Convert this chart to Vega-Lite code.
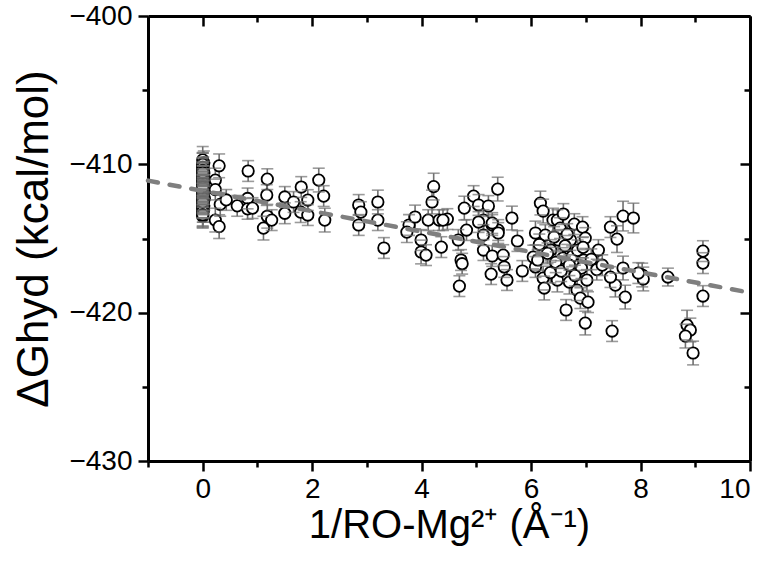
{
  "$schema": "https://vega.github.io/schema/vega-lite/v6.json",
  "width": 602,
  "height": 445,
  "autosize": {"type": "none"},
  "padding": {"left": 148, "top": 16, "right": 24, "bottom": 111},
  "background": "white",
  "config": {
    "view": {"stroke": null},
    "font": "Liberation Sans",
    "axis": {
      "domainColor": "black", "domainWidth": 3, "tickColor": "black", "tickWidth": 2.5,
      "grid": false, "labelFont": "Liberation Sans", "labelFontSize": 28, "labelColor": "black",
      "titleFont": "Liberation Sans", "titleFontWeight": "normal", "titleColor": "black"
    }
  },
  "datasets": {
    "pts": [
      {"x":0,"y":-409.7,"e":0.9},{"x":0.02,"y":-409.9,"e":0.8},{"x":0,"y":-410.1,"e":0.9},{"x":0.01,"y":-410.3,"e":0.8},
      {"x":0,"y":-410.5,"e":0.9},{"x":0.02,"y":-410.6,"e":0.8},{"x":0,"y":-410.8,"e":0.9},{"x":0.01,"y":-410.9,"e":0.8},
      {"x":0,"y":-411.0,"e":0.9},{"x":0.03,"y":-411.1,"e":0.8},{"x":0,"y":-411.2,"e":0.9},{"x":0.01,"y":-411.3,"e":0.8},
      {"x":0,"y":-411.4,"e":0.9},{"x":0.02,"y":-411.5,"e":0.8},{"x":0,"y":-411.6,"e":0.9},{"x":0.01,"y":-411.7,"e":0.8},
      {"x":0,"y":-411.8,"e":0.9},{"x":0.02,"y":-411.9,"e":0.8},{"x":0,"y":-412.0,"e":0.9},{"x":0.01,"y":-412.1,"e":0.8},
      {"x":0,"y":-412.2,"e":0.9},{"x":0.03,"y":-412.3,"e":0.8},{"x":0,"y":-412.4,"e":0.9},{"x":0.01,"y":-412.6,"e":0.8},
      {"x":0,"y":-412.7,"e":0.9},{"x":0.02,"y":-412.8,"e":0.8},{"x":0,"y":-413.0,"e":0.9},{"x":0.01,"y":-413.1,"e":0.8},
      {"x":0,"y":-413.3,"e":0.9},{"x":0,"y":-413.5,"e":0.8},
      {"x":0,"y":-410.0,"e":0.75},{"x":0,"y":-410.2,"e":0.95},{"x":0,"y":-410.4,"e":0.85},{"x":0,"y":-410.7,"e":0.75},
      {"x":0,"y":-411.05,"e":0.95},{"x":0,"y":-411.25,"e":0.85},{"x":0,"y":-411.45,"e":0.75},{"x":0,"y":-411.65,"e":0.95},
      {"x":0,"y":-411.85,"e":0.85},{"x":0,"y":-412.05,"e":0.75},{"x":0,"y":-412.25,"e":0.95},{"x":0,"y":-412.5,"e":0.85},
      {"x":0,"y":-412.9,"e":0.75},{"x":0,"y":-413.2,"e":0.95},{"x":0,"y":-413.4,"e":0.85},{"x":0,"y":-412.55,"e":0.7},
      {"x":0,"y":-411.55,"e":0.7},{"x":0,"y":-410.55,"e":0.7},
      {"x":0.30,"y":-410.1,"e":0.8},{"x":0.23,"y":-411.06,"e":0.8},{"x":0.23,"y":-411.7,"e":0.7},{"x":0.32,"y":-412.7,"e":0.8},
      {"x":0.23,"y":-413.76,"e":0.8},{"x":0.30,"y":-414.2,"e":0.8},{"x":0.43,"y":-412.4,"e":0.7},{"x":0.63,"y":-412.8,"e":0.7},
      {"x":0.82,"y":-412.3,"e":0.7},{"x":0.82,"y":-413.0,"e":0.7},{"x":0.83,"y":-410.45,"e":0.7},{"x":0.91,"y":-412.95,"e":0.7},
      {"x":1.18,"y":-411.0,"e":0.7},{"x":1.17,"y":-412.07,"e":0.7},{"x":1.18,"y":-413.5,"e":0.8},{"x":1.26,"y":-413.76,"e":0.7},
      {"x":1.11,"y":-414.3,"e":0.8},{"x":1.50,"y":-412.2,"e":0.7},{"x":1.50,"y":-413.3,"e":0.7},{"x":1.8,"y":-411.53,"e":0.7},
      {"x":1.66,"y":-412.54,"e":0.7},{"x":1.79,"y":-413.22,"e":0.7},{"x":1.92,"y":-412.41,"e":0.7},{"x":1.92,"y":-413.42,"e":0.7},
      {"x":2.12,"y":-411.06,"e":0.8},{"x":2.21,"y":-412.14,"e":0.7},{"x":2.23,"y":-413.76,"e":0.8},{"x":2.85,"y":-412.74,"e":0.7},
      {"x":2.89,"y":-413.22,"e":0.7},{"x":2.85,"y":-414.09,"e":0.7},{"x":3.20,"y":-412.54,"e":0.8},{"x":3.20,"y":-413.76,"e":0.7},
      {"x":3.31,"y":-415.64,"e":0.7},{"x":3.77,"y":-414.09,"e":0.7},{"x":3.73,"y":-414.57,"e":0.7},{"x":3.88,"y":-413.55,"e":0.8},
      {"x":3.99,"y":-415.1,"e":0.7},{"x":3.99,"y":-415.91,"e":0.8},{"x":4.08,"y":-416.12,"e":0.7},{"x":4.22,"y":-411.5,"e":0.9},
      {"x":4.19,"y":-412.54,"e":0.8},{"x":4.12,"y":-413.76,"e":0.7},{"x":4.32,"y":-413.76,"e":0.7},{"x":4.36,"y":-415.58,"e":0.7},
      {"x":4.47,"y":-413.69,"e":0.7},{"x":4.72,"y":-416.45,"e":0.7},{"x":4.74,"y":-416.7,"e":0.7},{"x":4.69,"y":-418.21,"e":0.7},
      {"x":4.78,"y":-412.95,"e":0.8},{"x":4.95,"y":-412.14,"e":0.7},{"x":5.04,"y":-412.74,"e":0.7},{"x":5.22,"y":-412.81,"e":0.7},
      {"x":5.39,"y":-411.67,"e":0.8},{"x":5.13,"y":-413.76,"e":0.7},{"x":5.29,"y":-414.09,"e":0.7},{"x":5.40,"y":-414.43,"e":0.7},
      {"x":4.67,"y":-415.1,"e":0.7},{"x":5.13,"y":-415.78,"e":0.7},{"x":5.29,"y":-416.18,"e":0.7},{"x":5.49,"y":-416.12,"e":0.7},
      {"x":5.27,"y":-417.4,"e":0.7},{"x":5.56,"y":-417.8,"e":0.7},{"x":5.65,"y":-413.62,"e":0.8},{"x":5.75,"y":-415.17,"e":0.7},
      {"x":5.84,"y":-417.19,"e":0.7},{"x":6.08,"y":-414.63,"e":0.8},{"x":6.04,"y":-416.25,"e":0.8},{"x":6.17,"y":-412.61,"e":0.8},
      {"x":6.22,"y":-413.15,"e":0.8},{"x":6.40,"y":-413.76,"e":0.8},{"x":6.48,"y":-413.76,"e":0.7},{"x":6.59,"y":-413.35,"e":0.7},
      {"x":6.53,"y":-414.3,"e":0.7},{"x":6.79,"y":-414.03,"e":0.7},{"x":6.94,"y":-414.23,"e":0.7},{"x":6.08,"y":-416.92,"e":0.7},
      {"x":6.22,"y":-417.67,"e":0.8},{"x":6.24,"y":-418.34,"e":0.8},{"x":6.48,"y":-417.8,"e":0.8},{"x":6.70,"y":-417.94,"e":0.8},
      {"x":6.64,"y":-419.82,"e":0.7},{"x":6.84,"y":-418.48,"e":0.7},{"x":6.90,"y":-419.02,"e":0.7},{"x":6.99,"y":-420.7,"e":0.8},
      {"x":7.04,"y":-419.29,"e":0.7},{"x":7.48,"y":-421.24,"e":0.7},{"x":7.68,"y":-413.49,"e":1.0},{"x":7.87,"y":-413.62,"e":1.0},
      {"x":7.45,"y":-414.23,"e":0.7},{"x":7.57,"y":-415.04,"e":0.9},{"x":7.68,"y":-416.99,"e":0.8},{"x":8.03,"y":-417.46,"e":0.8},
      {"x":8.05,"y":-417.73,"e":0.8},{"x":7.54,"y":-418.14,"e":0.8},{"x":7.72,"y":-418.95,"e":0.8},{"x":8.50,"y":-417.6,"e":0.6},
      {"x":9.14,"y":-415.85,"e":0.7},{"x":9.14,"y":-416.66,"e":0.7},{"x":9.14,"y":-418.88,"e":0.7},{"x":8.85,"y":-420.84,"e":1.0},
      {"x":8.91,"y":-421.17,"e":0.8},{"x":8.82,"y":-421.58,"e":0.8},{"x":8.96,"y":-422.72,"e":0.8},
      {"x":4.39,"y":-413.76,"e":0.7},{"x":4.82,"y":-414.43,"e":0.7},{"x":5.04,"y":-413.89,"e":0.7},{"x":5.29,"y":-413.96,"e":0.7},
      {"x":5.13,"y":-414.77,"e":0.7},{"x":5.40,"y":-414.63,"e":0.7},{"x":5.51,"y":-416.92,"e":0.7},{"x":6.26,"y":-414.77,"e":0.7},
      {"x":6.50,"y":-415.1,"e":0.7},{"x":6.72,"y":-415.1,"e":0.7},{"x":6.99,"y":-414.97,"e":0.7},{"x":7.23,"y":-415.78,"e":0.7},
      {"x":7.96,"y":-417.33,"e":0.7},{"x":6.36,"y":-415.78,"e":0.7},{"x":6.58,"y":-416.32,"e":0.7},{"x":6.12,"y":-416.45,"e":0.7},
      {"x":6.96,"y":-416.45,"e":0.7},{"x":7.45,"y":-417.6,"e":0.7},
      {"x":6.3,"y":-416.0,"e":0.7},{"x":6.45,"y":-416.6,"e":0.7},{"x":6.62,"y":-415.5,"e":0.7},{"x":6.75,"y":-416.2,"e":0.7},
      {"x":6.85,"y":-415.8,"e":0.7},{"x":6.92,"y":-417.0,"e":0.7},{"x":7.1,"y":-416.4,"e":0.7},{"x":7.2,"y":-417.1,"e":0.7},
      {"x":6.55,"y":-417.2,"e":0.7},{"x":6.7,"y":-416.8,"e":0.7},{"x":6.35,"y":-417.3,"e":0.7},{"x":6.15,"y":-415.4,"e":0.7},
      {"x":6.66,"y":-414.7,"e":0.7},{"x":6.8,"y":-417.5,"e":0.7},{"x":7.02,"y":-417.8,"e":0.7},{"x":7.3,"y":-416.8,"e":0.7},
      {"x":6.42,"y":-414.9,"e":0.7},{"x":6.95,"y":-415.6,"e":0.7}
    ],
    "fit": [{"x": -1, "y": -411.1}, {"x": 10, "y": -418.65}]
  },
  "layer": [
    {
      "data": {"name": "pts"},
      "mark": {"type": "errorbar", "ticks": false, "color": "#707070", "thickness": 1.6},
      "encoding": {
        "x": {"field": "x", "type": "quantitative", "scale": {"domain": [-1, 10], "nice": false, "zero": false},
              "axis": {"orient": "bottom", "values": [0, 2, 4, 6, 8, 10], "tickSize": 10, "labelPadding": 4, "format": "d",
                       "title": "1/RO-Mg²⁺ (Å⁻¹)", "titleFontSize": 40, "titlePadding": 2}},
        "y": {"field": "y", "type": "quantitative", "scale": {"domain": [-430, -400], "nice": false, "zero": false},
              "axis": {"orient": "left", "values": [-430, -420, -410, -400], "tickSize": 10, "labelPadding": 6, "format": "d",
                       "title": "ΔGhyd (kcal/mol)", "titleFontSize": 44, "titlePadding": 12}},
        "yError": {"field": "e"}
      }
    },
    {
      "data": {"name": "pts"},
      "mark": {"type": "point", "shape": "circle", "size": 130, "filled": false, "fill": "white", "fillOpacity": 1, "stroke": "black", "strokeWidth": 1.8, "opacity": 1},
      "encoding": {
        "x": {"field": "x", "type": "quantitative", "scale": {"domain": [-1, 10], "nice": false, "zero": false},
              "axis": {"orient": "top", "values": [0, 2, 4, 6, 8, 10], "labels": false, "tickSize": -10, "title": null}},
        "y": {"field": "y", "type": "quantitative", "scale": {"domain": [-430, -400], "nice": false, "zero": false},
              "axis": {"orient": "right", "values": [-430, -420, -410, -400], "labels": false, "tickSize": -10, "title": null}}
      }
    },
    {
      "data": {"name": "pts"},
      "mark": {"type": "errorbar", "rule": false, "ticks": {"size": 12}, "color": "#707070", "thickness": 1.6},
      "encoding": {
        "x": {"field": "x", "type": "quantitative", "scale": {"domain": [-1, 10], "nice": false, "zero": false},
              "axis": {"orient": "bottom", "values": [-1, 1, 3, 5, 7, 9], "labels": false, "domain": false, "tickSize": 6, "title": null}},
        "y": {"field": "y", "type": "quantitative", "scale": {"domain": [-430, -400], "nice": false, "zero": false},
              "axis": {"orient": "left", "values": [-425, -415, -405], "labels": false, "domain": false, "tickSize": 6, "title": null}},
        "yError": {"field": "e"}
      }
    },
    {
      "data": {"name": "fit"},
      "mark": {"type": "line", "color": "#7f7f7f", "strokeWidth": 4.5, "strokeDash": [10, 12], "strokeCap": "round"},
      "encoding": {
        "x": {"field": "x", "type": "quantitative", "scale": {"domain": [-1, 10], "nice": false, "zero": false},
              "axis": {"orient": "top", "values": [-1, 1, 3, 5, 7, 9], "labels": false, "domain": false, "tickSize": -6, "title": null}},
        "y": {"field": "y", "type": "quantitative", "scale": {"domain": [-430, -400], "nice": false, "zero": false},
              "axis": {"orient": "right", "values": [-425, -415, -405], "labels": false, "domain": false, "tickSize": -6, "title": null}}
      }
    }
  ],
  "resolve": {"axis": {"x": "independent", "y": "independent"}}
}
